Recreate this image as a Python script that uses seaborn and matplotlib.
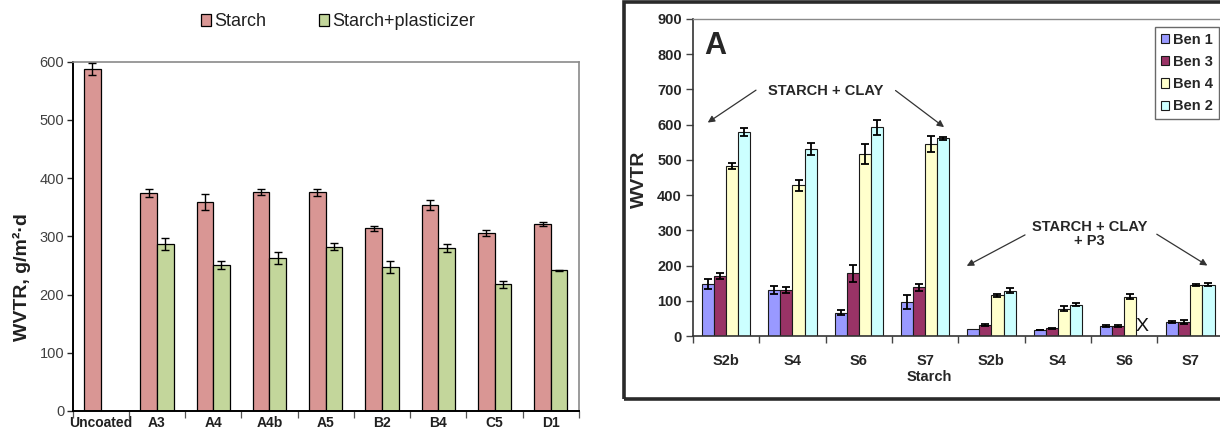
import numpy as np
import pandas as pd
import matplotlib
matplotlib.use("Agg")
import matplotlib.pyplot as plt
import seaborn as sns
from matplotlib.patches import Rectangle

# ---------------- Left panel data ----------------
coatings = ["Uncoated", "A3", "A4", "A4b", "A5", "B2", "B4", "C5", "D1"]
left_series = ["Starch", "Starch+plasticizer"]
starch = [587, 375, 359, 376, 376, 314, 354, 306, 321]
starch_err = [10, 7, 13, 5, 6, 4, 8, 5, 4]
plast = [np.nan, 287, 251, 263, 282, 247, 280, 218, 242]
plast_err = [np.nan, 10, 7, 10, 6, 10, 7, 6, 1]
left_colors = ["#D99694", "#C3D69B"]
left_yticks = [0, 100, 200, 300, 400, 500, 600]

# ---------------- Right panel data ----------------
groups = ["S2b", "S4", "S6", "S7", "S2b+P3", "S4+P3", "S6+P3", "S7+P3"]
group_labels = ["S2b", "S4", "S6", "S7", "S2b", "S4", "S6", "S7"]
ben_series = ["Ben 1", "Ben 3", "Ben 4", "Ben 2"]
ben1 = [147, 131, 66, 97, 21, 17, 28, 39]
ben1_err = [14, 12, 7, 20, np.nan, 1, 2, 3]
ben3 = [170, 131, 178, 138, 31, 22, 28, 39]
ben3_err = [9, 9, 24, 9, 2, 2, 3, 6]
ben4 = [483, 428, 516, 545, 115, 78, 112, 145]
ben4_err = [9, 16, 29, 24, 3, 8, 8, 4]
ben2 = [580, 531, 593, 561, 129, 89, np.nan, 146]
ben2_err = [11, 17, 21, 5, 7, 5, np.nan, 5]
right_colors = ["#9999FF", "#993366", "#FFFFCC", "#CCFFFF"]
right_yticks = [0, 100, 200, 300, 400, 500, 600, 700, 800, 900]

sns.set_theme(style="white")
plt.rcParams["font.family"] = ["Liberation Sans", "DejaVu Sans"]

W, H = 1220, 434
fig = plt.figure(figsize=(W / 100, H / 100), dpi=100)


def fx(px):
    return px / W


def fy(py):
    return 1 - py / H


# ================= LEFT PANEL =================
axL = fig.add_axes([fx(72.5), fy(411), fx(579) - fx(72.5), fy(61.7) - fy(411)])
left_df = pd.DataFrame({
    "coating": coatings * 2,
    "series": [left_series[0]] * len(coatings) + [left_series[1]] * len(coatings),
    "value": starch + plast,
    "err": starch_err + plast_err,
}).dropna(subset=["value"])

sns.barplot(data=left_df, x="coating", y="value", hue="series", order=coatings,
            hue_order=left_series, palette=left_colors, saturation=1, width=0.59,
            edgecolor="black", linewidth=0.9, errorbar=None, ax=axL)

for cont, name in zip(axL.containers, left_series):
    sub = left_df[left_df["series"] == name]
    errs = dict(zip(sub["coating"], sub["err"]))
    for bar in cont:
        xc = bar.get_x() + bar.get_width() / 2
        e = errs[coatings[int(round(xc))]]
        if np.isfinite(e):
            axL.errorbar(xc, bar.get_height(), yerr=e, fmt="none", ecolor="black",
                         elinewidth=1.0, capsize=3, capthick=1.0, zorder=5)

handles, labels = axL.get_legend_handles_labels()
axL.get_legend().remove()
fig.legend(handles, labels, loc="center left", bbox_to_anchor=(fx(201), fy(22)),
           ncol=2, frameon=False, fontsize=13, handlelength=0.55, handleheight=0.65,
           handletextpad=0.2, columnspacing=2.9, borderpad=0, borderaxespad=0,
           labelcolor="#202020")

axL.set_xlim(-0.5, len(coatings) - 0.5)
axL.set_ylim(0, 600)
axL.set_yticks(left_yticks)
axL.set_yticklabels([str(v) for v in left_yticks], color="#404040", fontsize=10.5)
axL.set_xticks(range(len(coatings)))
axL.set_xticklabels(coatings, fontsize=10, fontweight="bold", color="#202020")
axL.set_xticks(np.arange(-0.5, len(coatings), 1), minor=True)
axL.tick_params(axis="x", which="major", length=0, pad=3.5)
axL.tick_params(axis="x", which="minor", length=5, width=0.9, color="#555555",
                direction="out", bottom=True)
axL.tick_params(axis="y", length=4, width=1.0, direction="out", left=True, pad=2)
axL.set_xlabel("")
axL.set_ylabel("WVTR, g/m²·d", fontsize=14, fontweight="bold", color="#202020")
axL.yaxis.set_label_coords(-0.100, 0.384)
axL.yaxis.label.set_va("center")
for s in ["left", "bottom"]:
    axL.spines[s].set_color("black")
    axL.spines[s].set_linewidth(1.4)
for s in ["top", "right"]:
    axL.spines[s].set_visible(True)
    axL.spines[s].set_color("#8a8a8a")
    axL.spines[s].set_linewidth(1.2)

# ================= RIGHT PANEL =================
fig.add_artist(Rectangle((fx(623.5), fy(398.5)), fx(1240) - fx(623.5), fy(1.5) - fy(398.5),
                         transform=fig.transFigure, fill=False, lw=2.6,
                         edgecolor="#2a2a2a", zorder=0))

axR = fig.add_axes([fx(693), fy(336), fx(1223.5) - fx(693), fy(19) - fy(336)])
right_vals = [ben1, ben3, ben4, ben2]
right_errs = [ben1_err, ben3_err, ben4_err, ben2_err]
right_df = pd.DataFrame({
    "group": groups * 4,
    "series": sum([[s] * len(groups) for s in ben_series], []),
    "value": sum(right_vals, []),
    "err": sum(right_errs, []),
}).dropna(subset=["value"])

sns.barplot(data=right_df, x="group", y="value", hue="series", order=groups,
            hue_order=ben_series, palette=right_colors, saturation=1, width=0.73,
            edgecolor="#1a1a1a", linewidth=0.8, errorbar=None, ax=axR)

for cont, name in zip(axR.containers, ben_series):
    sub = right_df[right_df["series"] == name]
    errs = dict(zip(sub["group"], sub["err"]))
    for bar in cont:
        xc = bar.get_x() + bar.get_width() / 2
        e = errs[groups[int(round(xc))]]
        if np.isfinite(e):
            axR.errorbar(xc, bar.get_height(), yerr=e, fmt="none", ecolor="black",
                         elinewidth=1.3, capsize=3, capthick=1.3, zorder=5)

handles, labels = axR.get_legend_handles_labels()
axR.get_legend().remove()
leg = axR.legend(handles, labels, loc="upper left", bbox_to_anchor=(fx(1155), fy(27)),
                 bbox_transform=fig.transFigure, frameon=True, fancybox=False,
                 prop={"weight": "bold", "size": 10.5}, handlelength=0.55,
                 handleheight=0.6, handletextpad=0.3, labelspacing=0.56,
                 borderpad=0.4, borderaxespad=0)
leg.get_frame().set_edgecolor("#444444")
leg.get_frame().set_linewidth(1.0)

axR.set_xlim(-0.5, len(groups) - 0.5)
axR.set_ylim(0, 900)
axR.set_yticks(right_yticks)
axR.set_yticklabels([str(v) for v in right_yticks], fontsize=10.5, fontweight="bold")
axR.set_xticks(range(len(groups)))
axR.set_xticklabels(group_labels, fontsize=10.5, fontweight="bold")
axR.set_xticks(np.arange(-0.5, len(groups), 1), minor=True)
axR.tick_params(axis="x", which="major", length=0, pad=13)
axR.tick_params(axis="x", which="minor", length=5, width=1.0, color="#444444",
                direction="out", bottom=True)
axR.tick_params(axis="y", length=5, width=1.0, color="#444444", direction="out",
                left=True, pad=3)
axR.set_xlabel("Starch", fontsize=10.5, fontweight="bold")
axR.xaxis.set_label_coords(0.445, -0.108)
axR.set_ylabel("WVTR", fontsize=14, fontweight="bold")
axR.yaxis.set_label_coords(-0.100, 0.495)
axR.yaxis.label.set_va("center")
for s in ["left", "bottom"]:
    axR.spines[s].set_color("#333333")
    axR.spines[s].set_linewidth(1.2)
axR.spines["top"].set_visible(True)
axR.spines["top"].set_color("#8a8a8a")
axR.spines["top"].set_linewidth(1.0)
axR.spines["right"].set_visible(False)

# Panel letter and annotations
axR.text(-0.168, 823, "A", fontsize=22, fontweight="bold", ha="center", va="center")
arrow_kw = dict(arrowstyle="-|>", color="#333333", lw=0.9, mutation_scale=10,
                shrinkA=0, shrinkB=0)
axR.text(1.506, 696, "STARCH + CLAY", fontsize=10.5, fontweight="bold",
         ha="center", va="center")
axR.annotate("", xy=(-0.278, 606), xytext=(0.45, 698), arrowprops=arrow_kw)
axR.annotate("", xy=(3.286, 593), xytext=(2.554, 697), arrowprops=arrow_kw)
axR.text(5.48, 290, "STARCH + CLAY\n+ P3", fontsize=10.5, fontweight="bold",
         ha="center", va="center", linespacing=1.05)
axR.annotate("", xy=(3.628, 199), xytext=(4.507, 287), arrowprops=arrow_kw)
axR.annotate("", xy=(7.257, 200), xytext=(6.494, 289), arrowprops=arrow_kw)

# "X" marking the missing Ben 2 value in the S6 + P3 group
x_slot = groups.index("S6+P3") + 1.5 * 0.73 / len(ben_series)
axR.text(x_slot, 27, "X", fontsize=14, ha="center", va="center", color="#111111")

fig.savefig("out.png", dpi=100)
